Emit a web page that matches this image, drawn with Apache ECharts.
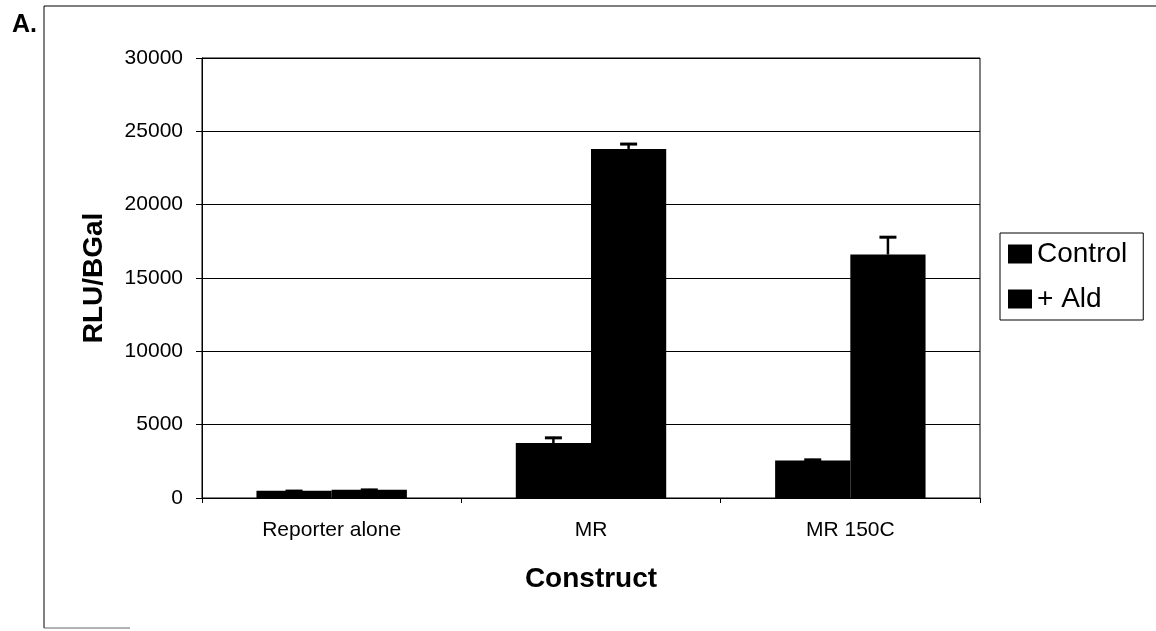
<!DOCTYPE html>
<html>
<head>
<meta charset="utf-8">
<script src="https://cdn.jsdelivr.net/npm/echarts@6/dist/echarts.min.js"></script>
<style>html,body{margin:0;padding:0;background:#fff;}#c{width:1156px;height:631px;}</style>
</head>
<body>
<div id="c"></div>
<script>
const categories = ['Reporter alone', 'MR', 'MR 150C'];
const controlValues = [500, 3750, 2550];
const controlErrors = [40, 420, 120];
const aldValues = [560, 23800, 16600];
const aldErrors = [60, 400, 1250];
const yTicks = [0, 5000, 10000, 15000, 20000, 25000, 30000];

const chart = echarts.init(document.getElementById('c'), null, {renderer: 'canvas'});
const FONT = 'Liberation Sans, Arial, sans-serif';
const GAP = 0.42;

function errSeries(vals, errs, idx) {
  return {
    type: 'custom',
    z: 5,
    silent: true,
    data: vals.map((v, i) => [i, v, errs[i]]),
    encode: {x: 0, y: 1},
    renderItem: function (params, api) {
      const ci = api.value(0), v = api.value(1), e = api.value(2);
      const band = api.size([1, 0])[0];
      const bw = band * (1 - GAP) / 2;
      const off = idx === 0 ? -bw / 2 : bw / 2;
      const p0 = api.coord([ci, v]);
      const p1 = api.coord([ci, v + e]);
      const x = p0[0] + off;
      const cap = 8.5;
      return {
        type: 'group',
        children: [
          {type: 'line', shape: {x1: x, y1: p0[1], x2: x, y2: p1[1]}, style: {stroke: '#000', lineWidth: 2.5}},
          {type: 'line', shape: {x1: x - cap, y1: p1[1] + 1, x2: x + cap, y2: p1[1] + 1}, style: {stroke: '#000', lineWidth: 3}}
        ]
      };
    }
  };
}

chart.setOption({
  animation: false,
  backgroundColor: '#fff',
  textStyle: {fontFamily: FONT},
  grid: {left: 202, right: 176, top: 58, bottom: 133, show: true, borderColor: '#000', borderWidth: 1, backgroundColor: 'transparent'},
  legend: {
    orient: 'vertical',
    left: 1000, top: 233,
    padding: [7, 16, 7, 8],
    itemGap: 17,
    itemWidth: 24, itemHeight: 19,
    borderColor: '#000', borderWidth: 1,
    backgroundColor: '#fff',
    icon: 'rect',
    textStyle: {fontSize: 28, color: '#000', fontFamily: FONT, padding: [0, 0, 0, 0]},
    data: ['Control', '+ Ald']
  },
  xAxis: {
    type: 'category',
    data: categories,
    name: 'Construct',
    nameLocation: 'middle',
    nameGap: 67,
    nameTextStyle: {fontSize: 28, fontWeight: 'bold', color: '#000', fontFamily: FONT},
    axisLine: {lineStyle: {color: '#000', width: 1}},
    axisTick: {show: true, length: 5, lineStyle: {color: '#000'}},
    axisLabel: {fontSize: 21, color: '#000', margin: 22, fontFamily: FONT}
  },
  yAxis: {
    type: 'value',
    min: 0, max: 30000, interval: 5000,
    name: 'RLU/BGal',
    nameLocation: 'middle',
    nameGap: 94,
    nameTextStyle: {fontSize: 28, fontWeight: 'bold', color: '#000', fontFamily: FONT},
    axisLine: {show: true, lineStyle: {color: '#000', width: 1}},
    axisTick: {show: true, length: 6, lineStyle: {color: '#000'}},
    axisLabel: {fontSize: 21, color: '#000', margin: 19, fontFamily: FONT,
      formatter: v => yTicks.indexOf(v) >= 0 ? String(v) : ''},
    splitLine: {show: true, lineStyle: {color: '#000', width: 1}}
  },
  series: [
    {name: 'Control', type: 'bar', data: controlValues, barGap: '0%', barCategoryGap: (GAP * 100) + '%',
      itemStyle: {color: '#000'}, z: 3},
    {name: '+ Ald', type: 'bar', data: aldValues, barGap: '0%', barCategoryGap: (GAP * 100) + '%',
      itemStyle: {color: '#000'}, z: 3},
    errSeries(controlValues, controlErrors, 0),
    errSeries(aldValues, aldErrors, 1)
  ],
  graphic: [
    {type: 'line', shape: {x1: 44, y1: 6, x2: 1156, y2: 6}, style: {stroke: '#000', lineWidth: 1}},
    {type: 'line', shape: {x1: 44, y1: 6, x2: 44, y2: 628}, style: {stroke: '#000', lineWidth: 1}},
    {type: 'line', shape: {x1: 44, y1: 628, x2: 130, y2: 628}, style: {stroke: '#666', lineWidth: 1}},
    {type: 'text', left: 12, top: 13, style: {text: 'A.', font: 'bold 25px ' + FONT, fill: '#000'}}
  ]
});
</script>
</body>
</html>
